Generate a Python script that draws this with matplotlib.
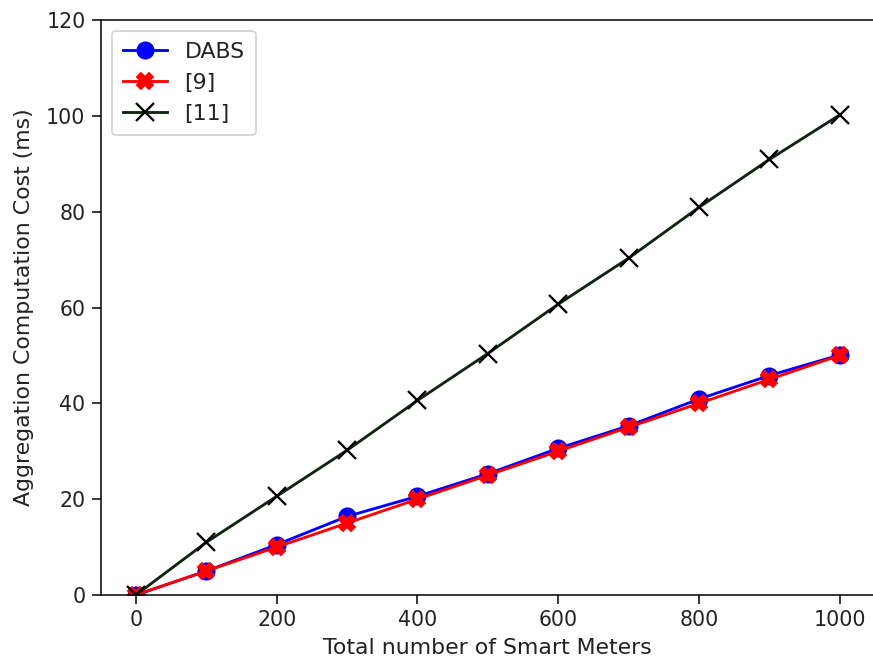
import matplotlib
matplotlib.use("Agg")
import matplotlib.pyplot as plt

METERS = [0, 100, 200, 300, 400, 500, 600, 700, 800, 900, 1000]
DABS = [0, 5.0, 10.5, 16.4, 20.6, 25.3, 30.6, 35.3, 40.9, 45.8, 50.1]
REF9 = [0, 5.0, 10.0, 15.0, 20.0, 25.0, 30.0, 35.0, 40.0, 45.0, 50.0]
REF11 = [0, 11.0, 20.6, 30.2, 40.6, 50.4, 60.7, 70.3, 80.9, 90.9, 100.2]

DPI = 137
fig = plt.figure(figsize=(873 / DPI, 664 / DPI), dpi=DPI)
ax = fig.add_axes([100.7 / 873, 69 / 664, 774.3 / 873, 575 / 664])

ax.plot(METERS, DABS, color="blue", marker="o", markersize=8.5, linewidth=1.5, label="DABS")
ax.plot(METERS, REF9, color="red", marker="X", markersize=8.5, linewidth=1.5, label="[9]")
ax.plot(METERS, REF11, color="#0d260d", marker="x", markersize=9, markeredgecolor="black",
        markeredgewidth=1.2, linewidth=1.5, label="[11]")

ax.set_xlim(-50, 1050)
ax.set_ylim(0, 120)
ax.set_xticks([0, 200, 400, 600, 800, 1000])
ax.set_yticks([0, 20, 40, 60, 80, 100, 120])
ax.tick_params(labelsize=10.8, colors="#222222", length=4.5)
ax.tick_params(color="black")
ax.set_xlabel("Total number of Smart Meters", fontsize=11.6, color="#222222")
ax.set_ylabel("Aggregation Computation Cost (ms)", fontsize=11.6, color="#222222", labelpad=6.5)
leg = ax.legend(loc="upper left", fontsize=11.6, borderpad=0.5)
for t in leg.get_texts():
    t.set_color("#222222")

fig.savefig("out.png", dpi=DPI)
